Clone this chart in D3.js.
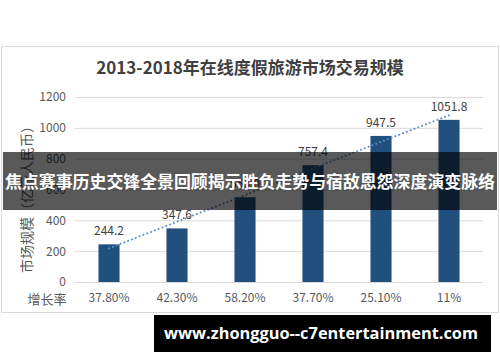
<!DOCTYPE html>
<html>
<head>
<meta charset="utf-8">
<script src="https://cdn.jsdelivr.net/npm/d3@7"></script>
<style>
	body { margin: 0; background: #fff; }
	svg { display: block; }
</style>
</head>
<body>
<svg id="chart" width="500" height="362"></svg>
<script>
'use strict';

// data
const years = ['2013', '2014', '2015', '2016', '2017', '2018'];
const sizes = [244.2, 347.6, 550.0, 757.4, 947.5, 1051.8];
const growth = ['37.80%', '42.30%', '58.20%', '37.70%', '25.10%', '11%'];
const yTicks = [0, 200, 400, 600, 800, 1000, 1200];

const title = '2013-2018年在线度假旅游市场交易规模';
const yLabel = '市场规模（亿元人民币）';
const growthLabel = '增长率';
const banner = '焦点赛事历史交锋全景回顾揭示胜负走势与宿敌恩怨深度演变脉络';
const site = 'www.zhongguo--c7entertainment.com';

const FONT = '"Noto Sans CJK SC", "Noto Sans", sans-serif';
const barColour = '#22507e';
const trendColour = '#5b8fc7';
const gridColour = '#d9d9d9';
const textColour = '#595959';

let svg = d3.select('#chart');

// chart frame
svg.append('rect')
	.attr('x', 1.5).attr('y', 46.5)
	.attr('width', 497).attr('height', 266)
	.attr('fill', '#fff')
	.attr('stroke', '#d9d9d9');

svg.append('text')
	.attr('x', 250).attr('y', 74)
	.attr('text-anchor', 'middle')
	.attr('font-family', FONT)
	.attr('font-size', 17)
	.attr('font-weight', 'bold')
	.attr('fill', '#404040')
	.text(title);

let x = d3.scaleBand()
	.domain(years)
	.range([75, 483])
	.paddingInner(0.69)
	.paddingOuter(0.345);

let y = d3.scaleLinear()
	.domain([0, 1200])
	.range([282, 97]);

// grid lines
svg.append('g')
	.selectAll('line')
	.data(yTicks)
	.enter().append('line')
		.attr('x1', 75).attr('x2', 483)
		.attr('y1', d => y(d) + 0.5)
		.attr('y2', d => y(d) + 0.5)
		.attr('stroke', gridColour)
		.attr('stroke-width', 1);

// y axis tick labels
let yAxis = svg.append('g')
	.attr('transform', 'translate(70,0)')
	.call(d3.axisLeft(y).tickValues(yTicks).tickFormat(d3.format('d')).tickSize(0).tickPadding(4));
yAxis.select('.domain').remove();
yAxis.selectAll('text')
	.attr('font-family', FONT)
	.attr('font-size', 12)
	.attr('fill', textColour);

svg.append('text')
	.attr('transform', 'translate(32,196) rotate(-90)')
	.attr('text-anchor', 'middle')
	.attr('font-family', FONT)
	.attr('font-size', 14)
	.attr('fill', textColour)
	.text(yLabel);

// bars
svg.append('g')
	.selectAll('rect')
	.data(sizes)
	.enter().append('rect')
		.attr('x', (d, i) => x(years[i]))
		.attr('y', d => y(d))
		.attr('width', x.bandwidth())
		.attr('height', d => y(0) - y(d))
		.attr('fill', barColour);

// value labels
svg.append('g')
	.selectAll('text')
	.data(sizes)
	.enter().append('text')
		.attr('x', (d, i) => x(years[i]) + x.bandwidth() / 2)
		.attr('y', d => y(d) - 9)
		.attr('text-anchor', 'middle')
		.attr('font-family', FONT)
		.attr('font-size', 12)
		.attr('fill', '#404040')
		.text(d => d.toFixed(1));

// linear trend line fitted to the bar values
let n = sizes.length;
let mx = (n + 1) / 2;
let my = d3.mean(sizes);
let slope = d3.sum(sizes, (d, i) => (i + 1 - mx) * (d - my)) / d3.sum(sizes, (d, i) => (i + 1 - mx) * (i + 1 - mx));
let fit = i => my + slope * (i + 1 - mx);
let cx = i => x(years[i]) + x.bandwidth() / 2;

svg.append('line')
	.attr('x1', cx(0)).attr('y1', y(fit(0)))
	.attr('x2', cx(n - 1)).attr('y2', y(fit(n - 1)))
	.attr('stroke', trendColour)
	.attr('stroke-width', 2)
	.attr('stroke-linecap', 'round')
	.attr('stroke-dasharray', '0.1 4');

// growth row
svg.append('text')
	.attr('x', 47).attr('y', 304)
	.attr('text-anchor', 'middle')
	.attr('font-family', FONT)
	.attr('font-size', 13)
	.attr('fill', textColour)
	.text(growthLabel);

svg.append('g')
	.selectAll('text')
	.data(growth)
	.enter().append('text')
		.attr('x', (d, i) => cx(i))
		.attr('y', 302)
		.attr('text-anchor', 'middle')
		.attr('font-family', FONT)
		.attr('font-size', 12)
		.attr('fill', textColour)
		.text(d => d);

// dark banner across the middle
svg.append('rect')
	.attr('x', 3).attr('y', 152)
	.attr('width', 494).attr('height', 58)
	.attr('fill', 'rgba(0,0,0,0.65)');

svg.append('text')
	.attr('x', 250).attr('y', 188)
	.attr('text-anchor', 'middle')
	.attr('font-family', FONT)
	.attr('font-size', 16.5)
	.attr('font-weight', 'bold')
	.attr('fill', '#fff')
	.attr('textLength', 490)
	.attr('lengthAdjust', 'spacingAndGlyphs')
	.text(banner);

// site box at the bottom
svg.append('rect')
	.attr('x', 154).attr('y', 315)
	.attr('width', 337).attr('height', 37)
	.attr('fill', '#000');

svg.append('text')
	.attr('x', 321).attr('y', 339)
	.attr('text-anchor', 'middle')
	.attr('font-family', '"Open Sans", "DejaVu Sans", sans-serif')
	.attr('font-size', 16)
	.attr('font-weight', 'bold')
	.attr('fill', '#fff')
	.attr('textLength', 314)
	.attr('lengthAdjust', 'spacingAndGlyphs')
	.text(site);
</script>
</body>
</html>
